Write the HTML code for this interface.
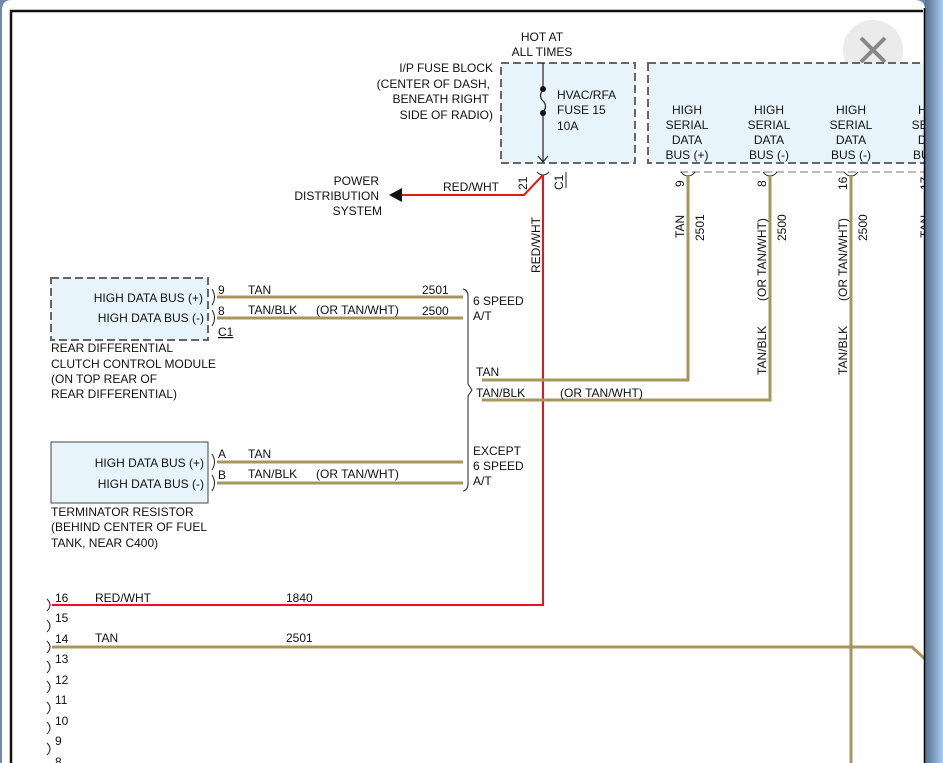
<!DOCTYPE html>
<html><head><meta charset="utf-8"><style>
html,body{margin:0;padding:0;width:943px;height:763px;overflow:hidden;background:#fff}
svg{display:block}
text{font-family:"Liberation Sans",Arial,sans-serif;font-size:12px;fill:#111}
</style></head><body>
<svg width="943" height="763" viewBox="0 0 943 763" xmlns="http://www.w3.org/2000/svg">
<defs>
<linearGradient id="bg" x1="0" x2="1"><stop offset="0" stop-color="#56718f"/><stop offset="0.5" stop-color="#7d9bbd"/><stop offset="1" stop-color="#aacbf0"/></linearGradient>
<clipPath id="cp"><rect x="0" y="0" width="924" height="763"/></clipPath>
</defs>
<rect x="0" y="0" width="943" height="763" fill="#6d8aab"/>
<rect x="925" y="0" width="18" height="763" fill="url(#bg)"/>
<path d="M2,763 V10 Q2,0 12,0 H915 Q925,0 925,10 V763 Z" fill="#fff"/>
<g clip-path="url(#cp)">
<path d="M11,763 V11 H923" fill="none" stroke="#111" stroke-width="2.5"/>

<!-- close button -->
<circle cx="873" cy="50" r="30" fill="#ebebeb"/>
<path d="M861,38 L885,62 M885,38 L861,62" stroke="#888" stroke-width="4"/>

<!-- fuse block -->
<rect x="501" y="63" width="134" height="100" fill="#e8f4fc" stroke="#666" stroke-width="2" stroke-dasharray="8,4"/>
<line x1="543" y1="63" x2="543" y2="162" stroke="#222" stroke-width="1.2"/>
<path d="M538,156 L543,162 L548,156" fill="none" stroke="#222" stroke-width="1.2"/>
<rect x="540" y="92" width="6" height="18" fill="#e8f4fc"/>
<circle cx="543" cy="89" r="3" fill="#111"/><circle cx="543" cy="113" r="3" fill="#111"/>
<path d="M543,90 Q538,96 543,101 Q548,106 543,112" fill="none" stroke="#222" stroke-width="1.2"/>
<text x="557" y="99">HVAC/RFA</text><text x="557" y="114">FUSE 15</text><text x="557" y="130">10A</text>
<text x="542" y="41" text-anchor="middle">HOT AT</text><text x="542" y="56" text-anchor="middle">ALL TIMES</text>
<text x="493" y="72" text-anchor="end">I/P FUSE BLOCK</text>
<text x="490" y="88" text-anchor="end">(CENTER OF DASH,</text>
<text x="489" y="103" text-anchor="end">BENEATH RIGHT</text>
<text x="493" y="119" text-anchor="end">SIDE OF RADIO)</text>
<path d="M537,172 Q540,175 543,175 Q546,175 549,172" fill="none" stroke="#222" stroke-width="1"/>
<text transform="translate(527,190) rotate(-90)" font-size="11">21</text>
<text transform="translate(563,190) rotate(-90)" font-size="11">C1</text>
<line x1="566" y1="172" x2="566" y2="188" stroke="#222"/>

<!-- red wires -->
<path d="M543,175 L524,195 L402,195" fill="none" stroke="#e8151b" stroke-width="2"/>
<path d="M389,195 L402,188 L402,202 Z" fill="#111"/>
<text x="443" y="191">RED/WHT</text>
<text x="379" y="185" text-anchor="end">POWER</text>
<text x="379" y="200" text-anchor="end">DISTRIBUTION</text>
<text x="382" y="215" text-anchor="end">SYSTEM</text>
<path d="M543,175 V605 H52" fill="none" stroke="#e8151b" stroke-width="2"/>
<text transform="translate(540,273) rotate(-90)">RED/WHT</text>

<!-- serial data box -->
<rect x="648" y="63" width="300" height="100" fill="#e8f4fc" stroke="#666" stroke-width="2" stroke-dasharray="8,4"/>
<line x1="680" y1="172" x2="924" y2="172" stroke="#bbb" stroke-width="2" stroke-dasharray="8,4"/>
<g text-anchor="middle">
<text x="687" y="114">HIGH</text><text x="687" y="129">SERIAL</text><text x="687" y="144">DATA</text><text x="687" y="159">BUS (+)</text>
<text x="769" y="114">HIGH</text><text x="769" y="129">SERIAL</text><text x="769" y="144">DATA</text><text x="769" y="159">BUS (-)</text>
<text x="851" y="114">HIGH</text><text x="851" y="129">SERIAL</text><text x="851" y="144">DATA</text><text x="851" y="159">BUS (-)</text>
<text x="933" y="114">HIGH</text><text x="933" y="129">SERIAL</text><text x="933" y="144">DATA</text><text x="933" y="159">BUS (-)</text>
</g>
<g fill="none" stroke="#222" stroke-width="1">
<path d="M681,172 Q684,176 688,176 Q692,176 695,172"/>
<path d="M763,172 Q766,176 770,176 Q774,176 777,172"/>
<path d="M844,172 Q847,176 851,176 Q855,176 858,172"/>
</g>
<g font-size="11">
<text transform="translate(684,187) rotate(-90)">9</text>
<text transform="translate(766,187) rotate(-90)">8</text>
<text transform="translate(847,190) rotate(-90)">16</text>
<text transform="translate(929,190) rotate(-90)">17</text>
</g>
<g fill="none" stroke="#a8955c" stroke-width="3">
<path d="M688,176 V380 H482"/>
<path d="M770,176 V400 H482"/>
<path d="M851,176 V763"/>
<path d="M217,297 H463 M217,318 H463 M217,462 H463 M217,483 H463"/>
<path d="M52,647 H912 L925,659"/>
</g>
<text transform="translate(684,238) rotate(-90)">TAN</text>
<text transform="translate(704,241) rotate(-90)">2501</text>
<text transform="translate(766,301) rotate(-90)">(OR TAN/WHT)</text>
<text transform="translate(786,241) rotate(-90)">2500</text>
<text transform="translate(766,375) rotate(-90)">TAN/BLK</text>
<text transform="translate(847,301) rotate(-90)">(OR TAN/WHT)</text>
<text transform="translate(867,241) rotate(-90)">2500</text>
<text transform="translate(847,375) rotate(-90)">TAN/BLK</text>
<text transform="translate(929,238) rotate(-90)">TAN</text>

<!-- rear diff module -->
<rect x="51" y="278" width="157" height="62" fill="#e8f4fc" stroke="#666" stroke-width="2" stroke-dasharray="8,4"/>
<text x="203" y="302" text-anchor="end">HIGH DATA BUS (+)</text>
<text x="204" y="322" text-anchor="end">HIGH DATA BUS (-)</text>
<g fill="none" stroke="#222" stroke-width="1">
<path d="M212,289 Q217,297 212,305"/><path d="M212,310 Q217,318 212,326"/>
<path d="M212,454 Q217,462 212,470"/><path d="M212,475 Q217,483 212,491"/>
</g>
<text x="218" y="294" font-size="11">9</text><text x="218" y="315" font-size="11">8</text>
<text x="218" y="336" font-size="11" text-decoration="underline">C1</text>
<text x="248" y="294">TAN</text><text x="248" y="314">TAN/BLK</text><text x="316" y="314">(OR TAN/WHT)</text>
<text x="422" y="294">2501</text><text x="422" y="315">2500</text>
<text x="51" y="352">REAR DIFFERENTIAL</text>
<text x="51" y="368">CLUTCH CONTROL MODULE</text>
<text x="51" y="383">(ON TOP REAR OF</text>
<text x="51" y="398">REAR DIFFERENTIAL)</text>

<!-- terminator -->
<rect x="51" y="442" width="157" height="61" fill="#e8f4fc" stroke="#444" stroke-width="1"/>
<text x="204" y="467" text-anchor="end">HIGH DATA BUS (+)</text>
<text x="204" y="488" text-anchor="end">HIGH DATA BUS (-)</text>
<text x="218" y="458" font-size="11">A</text><text x="218" y="479" font-size="11">B</text>
<text x="248" y="458">TAN</text><text x="248" y="478">TAN/BLK</text><text x="316" y="478">(OR TAN/WHT)</text>
<text x="51" y="516">TERMINATOR RESISTOR</text>
<text x="51" y="531">(BEHIND CENTER OF FUEL</text>
<text x="51" y="547">TANK, NEAR C400)</text>

<!-- brace -->
<path d="M463,289 Q468,290 468,296 V384 L472,390 L468,396 V484 Q468,490 463,491" fill="none" stroke="#222" stroke-width="1"/>
<text x="473" y="305">6 SPEED</text><text x="473" y="320">A/T</text>
<text x="476" y="376">TAN</text><text x="476" y="397">TAN/BLK</text><text x="560" y="397">(OR TAN/WHT)</text>
<text x="473" y="455">EXCEPT</text><text x="473" y="470">6 SPEED</text><text x="473" y="485">A/T</text>

<!-- bottom connector -->
<g fill="none" stroke="#222" stroke-width="1">
<path d="M47,599 Q53,605 47,611"/><path d="M47,620 Q53,626 47,632"/><path d="M47,641 Q53,647 47,653"/>
<path d="M47,661 Q53,667 47,673"/><path d="M47,681 Q53,687 47,693"/><path d="M47,702 Q53,708 47,714"/>
<path d="M47,722 Q53,728 47,734"/><path d="M47,743 Q53,749 47,755"/>
</g>
<g font-size="12">
<text x="55" y="602">16</text><text x="55" y="622">15</text><text x="55" y="643">14</text><text x="55" y="663">13</text>
<text x="55" y="684">12</text><text x="55" y="704">11</text><text x="55" y="725">10</text><text x="55" y="745">9</text><text x="55" y="766">8</text>
</g>
<text x="95" y="602">RED/WHT</text><text x="286" y="602">1840</text>
<text x="95" y="642">TAN</text><text x="286" y="642">2501</text>
</g>
<line x1="924.5" y1="8" x2="924.5" y2="763" stroke="#000" stroke-width="1.5"/>
</svg>
</body></html>
